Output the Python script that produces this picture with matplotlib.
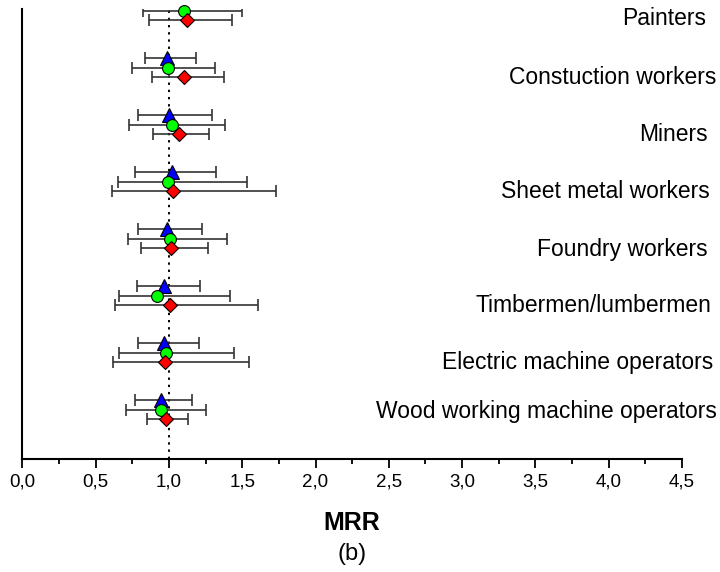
import matplotlib
matplotlib.use('Agg')
import matplotlib.pyplot as plt
from matplotlib.ticker import MultipleLocator, FuncFormatter

plt.rcParams['font.family'] = ['Liberation Sans', 'DejaVu Sans']

# occupations, bottom to top
jobs = ['Wood working machine operators', 'Electric machine operators',
        'Timbermen/lumbermen', 'Foundry workers', 'Sheet metal workers',
        'Miners', 'Constuction workers', 'Painters']

# blue triangles (no value for Painters)
tri_mrr = [0.946, 0.964, 0.969, 0.985, 1.019, 1.003, 0.985, None]
tri_lo = [0.767, 0.789, 0.780, 0.789, 0.767, 0.789, 0.837, None]
tri_hi = [1.155, 1.205, 1.214, 1.226, 1.324, 1.296, 1.187, None]

# green circles
cir_mrr = [0.948, 0.978, 0.919, 1.010, 0.996, 1.019, 0.996, 1.105]
cir_lo = [0.710, 0.660, 0.660, 0.721, 0.651, 0.730, 0.750, 0.826]
cir_hi = [1.255, 1.444, 1.417, 1.394, 1.533, 1.385, 1.317, 1.497]

# red diamonds
dia_mrr = [0.978, 0.976, 1.008, 1.014, 1.028, 1.067, 1.105, 1.126]
dia_lo = [0.851, 0.619, 0.630, 0.808, 0.610, 0.889, 0.887, 0.866]
dia_hi = [1.128, 1.544, 1.606, 1.265, 1.733, 1.276, 1.374, 1.428]

fig = plt.figure(figsize=(7.2, 5.72), dpi=100)
ax = fig.add_axes([0.031, 0.1976, 0.9163, 0.7867])

series = [
    (tri_mrr, tri_lo, tri_hi, 0.17, '^', '#0000ff', 9.5),
    (cir_mrr, cir_lo, cir_hi, 0.0, 'o', '#00ff00', 8.5),
    (dia_mrr, dia_lo, dia_hi, -0.155, 'D', '#ff0000', 7.5),
]

z = 3
for mrr, lo, hi, off, mk, col, ms in series:
    idx = [i for i in range(len(jobs)) if mrr[i] is not None]
    x = [mrr[i] for i in idx]
    y = [i + 1 + off for i in idx]
    err = [[mrr[i] - lo[i] for i in idx], [hi[i] - mrr[i] for i in idx]]
    ax.errorbar(x, y, xerr=err, fmt='none', ecolor='#333333', elinewidth=1.2,
                capsize=4, capthick=1.2, zorder=2)
    ax.plot(x, y, mk, color=col, markersize=ms, markeredgecolor='black',
            markeredgewidth=0.8, linestyle='none', zorder=z, clip_on=False)
    z += 1

ax.axvline(1.0, color='black', linestyle=(0, (1.2, 2.5)), linewidth=1.4, zorder=1)

# job labels on the right (right edge in data units)
lab_x = [4.739, 4.711, 4.698, 4.677, 4.691, 4.677, 4.732, 4.664]
lab_dy = [-0.02, -0.17, -0.16, -0.18, -0.16, -0.17, -0.16, -0.14]
for i, name in enumerate(jobs):
    ax.text(lab_x[i], i + 1 + lab_dy[i], name, ha='right', va='center',
            fontsize=16.5, clip_on=False)

ax.set_xlim(0, 4.5)
ax.set_ylim(0.14, 8.035)
ax.xaxis.set_major_locator(MultipleLocator(0.5))
ax.xaxis.set_minor_locator(MultipleLocator(0.25))
ax.xaxis.set_major_formatter(FuncFormatter(lambda v, p: ('%.1f' % v).replace('.', ',')))
ax.tick_params(axis='x', which='major', length=6.5, width=1.3, labelsize=13.5, pad=4)
ax.tick_params(axis='x', which='minor', length=3.5, width=1.3)
ax.set_yticks([])
ax.spines['top'].set_visible(False)
ax.spines['right'].set_visible(False)
ax.spines['left'].set_linewidth(1.5)
ax.spines['bottom'].set_linewidth(1.5)

fig.text(0.489, 0.085, 'MRR', ha='center', va='center', fontsize=18, fontweight='bold')
fig.text(0.489, 0.032, '(b)', ha='center', va='center', fontsize=17)

fig.savefig('out.png', dpi=100)
